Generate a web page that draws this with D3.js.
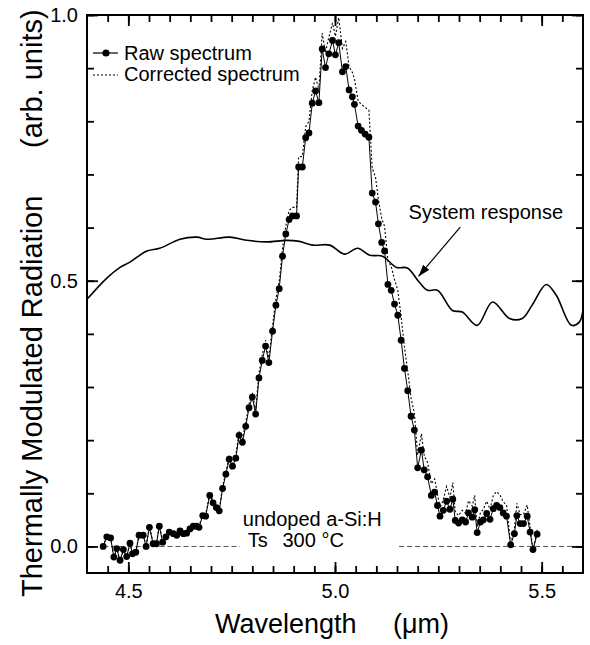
<!DOCTYPE html>
<html>
<head>
<meta charset="utf-8">
<script src="https://cdn.jsdelivr.net/npm/d3@7"></script>
<style>
	body { margin: 0; background: #fff; }
	text { font-family: "Liberation Sans", Arial, Helvetica, sans-serif; fill: #000; }
</style>
</head>
<body>
<svg id="chart" width="590" height="645"></svg>
<script>
// raw spectrum (wavelength in um, signal arb. units)
var rawWavelength = [4.439,4.448,4.457,4.465,4.472,4.480,4.488,4.496,4.504,4.510,
	4.518,4.526,4.536,4.543,4.551,4.560,4.568,4.575,4.583,4.591,
	4.599,4.609,4.617,4.625,4.633,4.641,4.649,4.657,4.665,4.671,
	4.680,4.687,4.697,4.705,4.713,4.720,4.728,4.736,4.744,4.752,
	4.760,4.768,4.776,4.784,4.792,4.800,4.808,4.816,4.824,4.832,
	4.840,4.849,4.857,4.865,4.873,4.881,4.889,4.897,4.907,4.912,
	4.921,4.929,4.937,4.945,4.953,4.961,4.969,4.977,4.985,4.994,
	5.001,5.009,5.018,5.026,5.034,5.042,5.047,5.056,5.064,5.073,
	5.082,5.090,5.098,5.105,5.113,5.120,5.128,5.136,5.144,5.152,
	5.160,5.168,5.176,5.184,5.192,5.200,5.209,5.216,5.224,5.233,
	5.241,5.248,5.254,5.262,5.270,5.278,5.285,5.291,5.299,5.308,
	5.316,5.323,5.332,5.338,5.344,5.352,5.359,5.367,5.375,5.383,
	5.391,5.399,5.407,5.415,5.425,5.434,5.440,5.448,5.456,5.465,
	5.472,5.479,5.489]

var rawSignal = [0.000,0.018,0.016,-0.020,-0.004,-0.026,-0.006,-0.019,0.006,-0.014,
	-0.011,0.021,0.021,0.000,0.036,0.005,0.005,0.038,0.008,0.018,
	0.027,0.024,0.021,0.029,0.024,0.025,0.033,0.038,0.038,0.036,
	0.058,0.057,0.096,0.082,0.073,0.067,0.109,0.136,0.164,0.151,
	0.166,0.209,0.196,0.226,0.261,0.281,0.249,0.317,0.350,0.377,
	0.346,0.405,0.454,0.485,0.546,0.588,0.615,0.622,0.622,0.714,
	0.714,0.769,0.778,0.834,0.857,0.835,0.936,0.901,0.927,0.952,
	0.925,0.948,0.893,0.903,0.859,0.846,0.832,0.791,0.783,0.776,
	0.770,0.665,0.648,0.607,0.572,0.556,0.493,0.482,0.456,0.435,
	0.388,0.335,0.293,0.245,0.219,0.148,0.181,0.144,0.131,0.096,
	0.102,0.077,0.057,0.068,0.085,0.070,0.089,0.049,0.044,0.050,
	0.046,0.063,0.055,0.069,0.026,0.046,0.050,0.062,0.051,0.071,
	0.077,0.073,0.063,0.057,0.003,0.024,0.058,0.043,0.043,0.057,
	0.027,-0.006,0.023]

var correctedSignal = [0.000,0.020,0.018,-0.022,-0.005,-0.030,-0.007,-0.021,0.007,-0.015,
	-0.012,0.023,0.023,0.000,0.040,0.006,0.006,0.041,0.009,0.019,
	0.029,0.026,0.022,0.031,0.025,0.027,0.035,0.040,0.040,0.038,
	0.061,0.059,0.100,0.085,0.076,0.069,0.112,0.140,0.169,0.155,
	0.171,0.215,0.202,0.233,0.268,0.289,0.256,0.326,0.360,0.388,
	0.355,0.416,0.466,0.498,0.561,0.603,0.632,0.638,0.638,0.733,
	0.734,0.790,0.800,0.858,0.883,0.860,0.966,0.930,0.958,0.985,
	0.960,0.995,0.937,0.950,0.903,0.892,0.880,0.838,0.832,0.826,
	0.821,0.712,0.695,0.653,0.617,0.602,0.537,0.527,0.502,0.482,
	0.432,0.375,0.330,0.279,0.251,0.172,0.212,0.170,0.158,0.118,
	0.127,0.098,0.072,0.088,0.113,0.092,0.120,0.065,0.058,0.068,
	0.062,0.086,0.076,0.096,0.037,0.064,0.070,0.085,0.070,0.096,
	0.103,0.097,0.084,0.078,0.004,0.033,0.081,0.060,0.060,0.078,
	0.037,-0.008,0.031]

// system response
var responseWavelength = [4.400,4.448,4.480,4.504,4.545,4.576,4.625,4.666,4.690,4.745,
	4.786,4.835,4.883,4.914,4.946,4.987,5.023,5.055,5.084,5.115,
	5.149,5.175,5.204,5.224,5.248,5.284,5.308,5.344,5.381,5.422,
	5.453,5.477,5.511,5.535,5.572,5.591,5.600]
var responseSignal = [0.465,0.505,0.525,0.535,0.556,0.561,0.578,0.582,0.578,0.582,
	0.576,0.573,0.576,0.574,0.567,0.567,0.550,0.561,0.548,0.546,
	0.525,0.524,0.497,0.482,0.482,0.444,0.441,0.416,0.460,0.429,
	0.429,0.454,0.493,0.473,0.416,0.422,0.444]

var xTickLabels = [4.5, 5.0, 5.5]
var yTickLabels = [0.0, 0.5, 1.0]
var baselineSegments = [[4.44, 4.77], [5.155, 5.6]]

var svg = d3.select("#chart")
var W = 590, H = 645
var mLeft = 87, mRight = 583, mTop = 15, mBottom = 573

var x = d3.scaleLinear().domain([4.4, 5.6]).range([mLeft, mRight])
var y = d3.scaleLinear().domain([-0.05, 1.0]).range([mBottom, mTop])

svg.append("rect").attr("width", W).attr("height", H).attr("fill", "#fff")

var raw = rawWavelength.map(function(w, i){ return {w: w, v: rawSignal[i]} })
var corr = rawWavelength.map(function(w, i){ return {w: w, v: correctedSignal[i]} })
var resp = responseWavelength.map(function(w, i){ return {w: w, v: responseSignal[i]} })

// zero reference dashes
svg.append("g").selectAll("line")
	.data(baselineSegments)
.enter().append("line")
	.attr("x1", function(d){ return x(d[0]) })
	.attr("x2", function(d){ return x(d[1]) })
	.attr("y1", y(0)).attr("y2", y(0))
	.attr("stroke", "#555")
	.attr("stroke-width", 1)
	.attr("stroke-dasharray", "5,3")

// axes, ticks pointing inwards
var xMinor = d3.range(4.45, 5.56, 0.05)
var yMinor = d3.range(0, 1.01, 0.1)

function axisGroup(axis, tx, ty){
	var g = svg.append("g").attr("transform", "translate(" + tx + "," + ty + ")").call(axis)
	g.attr("font-size", 20).attr("font-family", "'Liberation Sans', Arial, sans-serif")
	g.select(".domain").remove()
	g.selectAll(".tick line").attr("stroke", "#000").attr("stroke-width", 1.8)
	return g
}

axisGroup(d3.axisBottom(x).tickValues(xMinor).tickSize(-7).tickFormat(""), 0, mBottom)
axisGroup(d3.axisTop(x).tickValues(xMinor).tickSize(-7).tickFormat(""), 0, mTop)
axisGroup(d3.axisBottom(x).tickValues(xTickLabels).tickSize(-11).tickPadding(11).tickFormat(d3.format(".1f")), 0, mBottom)
axisGroup(d3.axisTop(x).tickValues(xTickLabels).tickSize(-11).tickFormat(""), 0, mTop)

axisGroup(d3.axisLeft(y).tickValues(yMinor).tickSize(-7).tickFormat(""), mLeft, 0)
axisGroup(d3.axisRight(y).tickValues(yMinor).tickSize(-7).tickFormat(""), mRight, 0)
axisGroup(d3.axisLeft(y).tickValues(yTickLabels).tickSize(-11).tickPadding(9).tickFormat(d3.format(".1f")), mLeft, 0)
axisGroup(d3.axisRight(y).tickValues(yTickLabels).tickSize(-11).tickFormat(""), mRight, 0)

svg.append("rect")
	.attr("x", mLeft).attr("y", mTop)
	.attr("width", mRight - mLeft).attr("height", mBottom - mTop)
	.attr("fill", "none").attr("stroke", "#000").attr("stroke-width", 2)

var line = d3.line()
	.x(function(d){ return x(d.w) })
	.y(function(d){ return y(d.v) })

// system response
svg.append("path")
	.datum(resp)
	.attr("d", line.curve(d3.curveCatmullRom.alpha(0.5)))
	.attr("fill", "none").attr("stroke", "#000").attr("stroke-width", 1.6)

line.curve(d3.curveLinear)

// corrected spectrum
svg.append("path")
	.datum(corr)
	.attr("d", line)
	.attr("fill", "none").attr("stroke", "#000").attr("stroke-width", 1.1)
	.attr("stroke-dasharray", "2,2")

// raw spectrum
svg.append("path")
	.datum(raw)
	.attr("d", line)
	.attr("fill", "none").attr("stroke", "#000").attr("stroke-width", 1)

svg.append("g").selectAll("circle")
	.data(raw)
.enter().append("circle")
	.attr("cx", function(d){ return x(d.w) })
	.attr("cy", function(d){ return y(d.v) })
	.attr("r", 3.4)
	.attr("fill", "#000")

// legend
var leg = svg.append("g")
leg.append("line").attr("x1", 93).attr("x2", 118).attr("y1", 53).attr("y2", 53)
	.attr("stroke", "#000").attr("stroke-width", 1.2)
leg.append("circle").attr("cx", 106).attr("cy", 53).attr("r", 3.6).attr("fill", "#000")
leg.append("text").attr("x", 124).attr("y", 60).style("font-size", "20px").text("Raw spectrum")
leg.append("line").attr("x1", 93).attr("x2", 118).attr("y1", 75).attr("y2", 75)
	.attr("stroke", "#000").attr("stroke-width", 1.1).attr("stroke-dasharray", "2,2")
leg.append("text").attr("x", 124).attr("y", 81).style("font-size", "20px").text("Corrected spectrum")

// annotations
svg.append("defs").append("marker")
	.attr("id", "arrow")
	.attr("viewBox", "0 0 12 8")
	.attr("refX", 12).attr("refY", 4)
	.attr("markerWidth", 12).attr("markerHeight", 8)
	.attr("markerUnits", "userSpaceOnUse")
	.attr("orient", "auto")
.append("path").attr("d", "M0,0 L12,4 L0,8 Z").attr("fill", "#000")

svg.append("text").attr("x", x(5.178)).attr("y", y(0.616)).style("font-size", "20px").text("System response")
svg.append("line")
	.attr("x1", x(5.303)).attr("y1", y(0.601))
	.attr("x2", x(5.202)).attr("y2", y(0.508))
	.attr("stroke", "#000").attr("stroke-width", 1.2)
	.attr("marker-end", "url(#arrow)")

svg.append("text").attr("x", x(4.777)).attr("y", y(0.038)).style("font-size", "20px").text("undoped a-Si:H")
svg.append("text").attr("x", x(4.789)).attr("y", y(-0.001)).style("font-size", "20px").text("Ts")
svg.append("text").attr("x", x(4.873)).attr("y", y(-0.001)).style("font-size", "20px").text("300 °C")

// axis titles
svg.append("text")
	.attr("x", 215).attr("y", 633)
	.style("font-size", "27px")
	.text("Wavelength")
svg.append("text")
	.attr("x", 393).attr("y", 633)
	.style("font-size", "27px")
	.text("(μm)")

svg.append("text")
	.attr("transform", "translate(42,597) rotate(-90)")
	.style("font-size", "29px")
	.text("Thermally Modulated Radiation")
svg.append("text")
	.attr("transform", "translate(42,148) rotate(-90)")
	.style("font-size", "29px")
	.text("(arb. units)")
</script>
</body>
</html>
